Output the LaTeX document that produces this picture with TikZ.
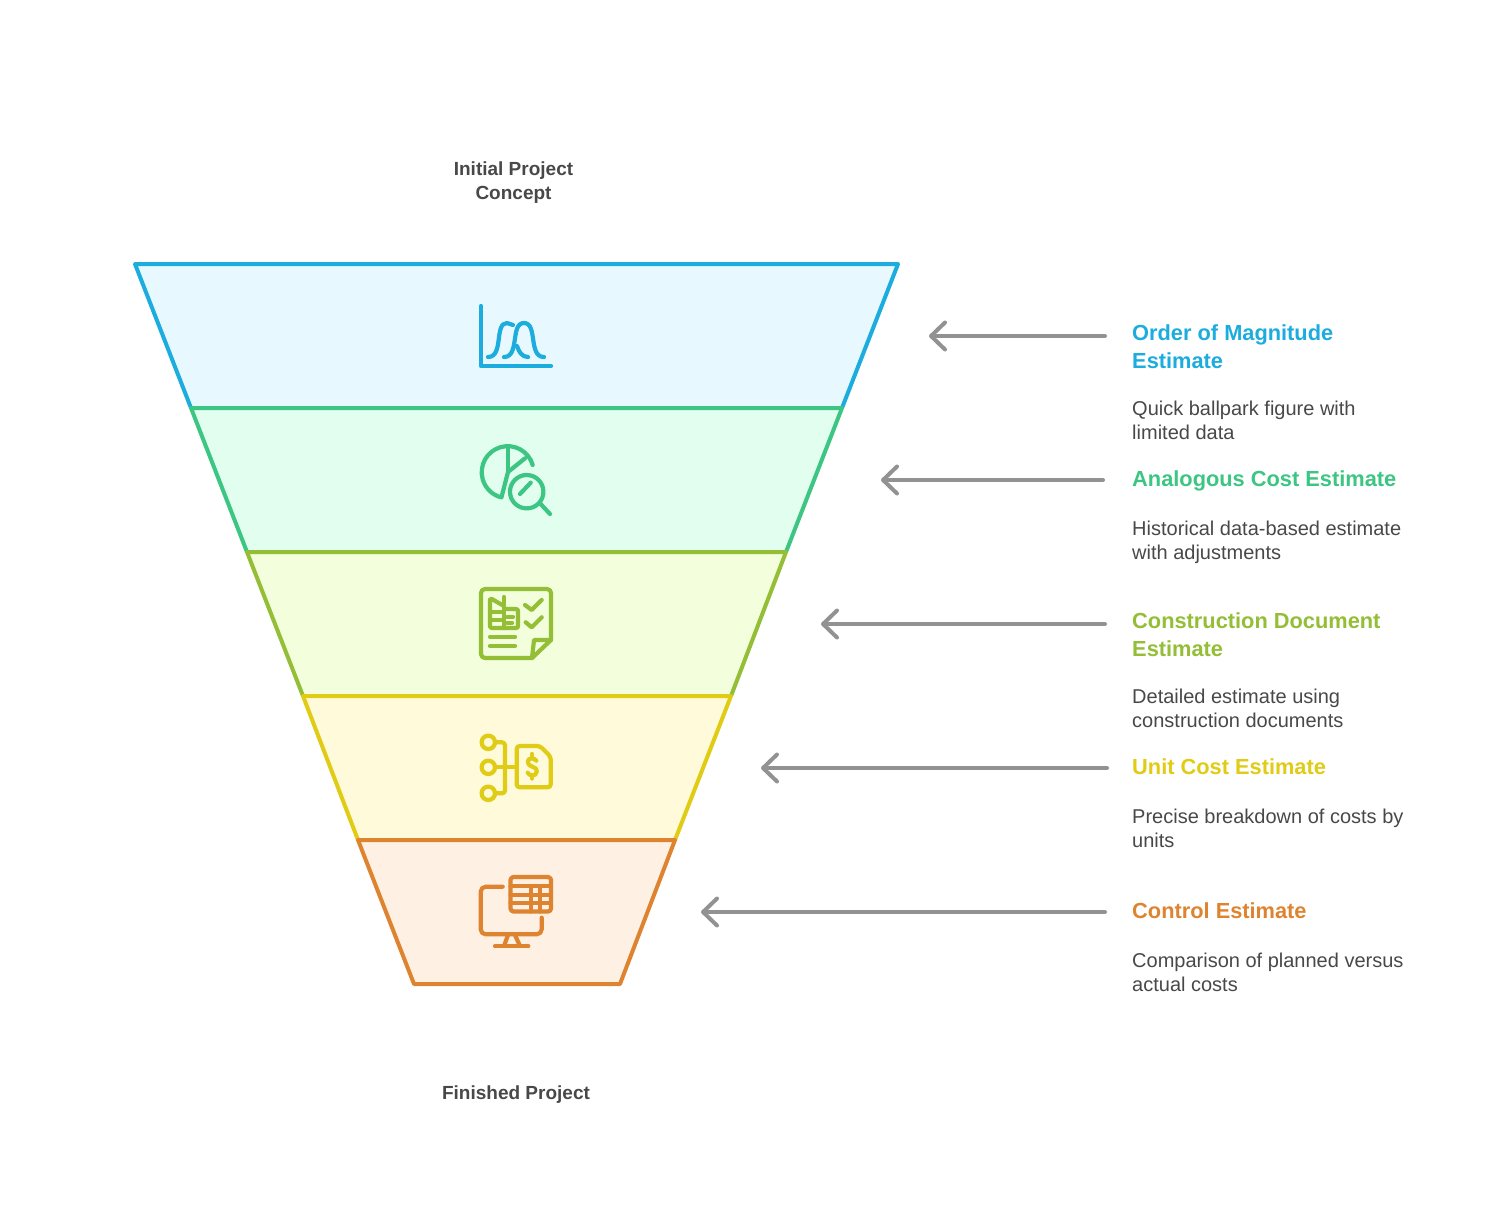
\documentclass[tikz,border=0pt]{standalone}
\usepackage{fontspec}
\setmainfont{Liberation Sans}
\usetikzlibrary{arrows.meta}
\definecolor{darktext}{HTML}{484848}
\definecolor{pointergray}{HTML}{929292}
\definecolor{blueline}{HTML}{1CACDE}
\definecolor{bluefill}{HTML}{E7F9FE}
\definecolor{greenline}{HTML}{3CC583}
\definecolor{greenfill}{HTML}{E2FEEF}
\definecolor{limeline}{HTML}{93BE36}
\definecolor{limefill}{HTML}{F3FEDC}
\definecolor{yellowline}{HTML}{E0CB15}
\definecolor{yellowfill}{HTML}{FEFADA}
\definecolor{orangeline}{HTML}{DE8431}
\definecolor{orangefill}{HTML}{FFF0E4}

\begin{document}
\begin{tikzpicture}[
    x=1pt, y=-1pt,
    band/.style={line width=4pt, line join=round},
    icon/.style={line width=4.2pt, line cap=round, line join=round},
    pointer/.style={line width=4pt, pointergray, line cap=round,
        -{Straight Barb[length=14pt, width=27pt, round]}},
    caption/.style={inner sep=0pt, align=center, text=darktext,
        font=\fontsize{19}{24}\selectfont\bfseries},
    heading/.style={inner sep=0pt, anchor=north west, align=left,
        font=\fontsize{21.8}{28}\selectfont\bfseries},
    detail/.style={inner sep=0pt, anchor=north west, align=left, text=darktext,
        font=\fontsize{20}{24}\selectfont}
]
    \useasboundingbox (0,0) rectangle (1512,1224);

    % funnel
    \draw[band, draw=blueline, fill=bluefill] (135,264) -- (898,264) -- (842,408) -- (191,408) -- cycle;
    \draw[band, draw=greenline, fill=greenfill] (191,408) -- (842,408) -- (786,552) -- (247,552) -- cycle;
    \draw[band, draw=limeline, fill=limefill] (247,552) -- (786,552) -- (731,696) -- (303,696) -- cycle;
    \draw[band, draw=yellowline, fill=yellowfill] (303,696) -- (731,696) -- (675,840) -- (358,840) -- cycle;
    \draw[band, draw=orangeline, fill=orangefill] (358,840) -- (675,840) -- (620,984) -- (414,984) -- cycle;

    % bell curves
    \begin{scope}[icon, blueline]
        \draw (481,306) -- (481,366) -- (551,366);
        \draw (488,357) .. controls (504,357) and (494,323) .. (507,323) -- (513,325);
        \draw (504,357) .. controls (520,357) and (510,323) .. (524,323)
            .. controls (538,323) and (528,357) .. (544,357);
        \draw (517,346) .. controls (519,352) and (522,357) .. (528,357);
    \end{scope}

    % pie and magnifier
    \begin{scope}[icon, greenline]
        \draw (532.7,465) arc[start angle=16, end angle=256, radius=26pt] -- (508,472) -- (525,458.3);
        \draw (508,446) -- (508,472);
        \draw (526.7,491.7) circle[radius=16.7pt];
        \draw (540,503.3) -- (550,514);
        \draw (520,494) -- (530.7,482.7);
    \end{scope}

    % note with checks
    \begin{scope}[icon, limeline]
        \draw[rounded corners=4pt] (532,658) -- (481,658) -- (481,589) -- (551,589) -- (551,640);
        \draw (551,640) -- (532,658) -- (534,640) -- cycle;
        \draw[rounded corners=2pt] (504,606) -- (490,598) -- (490,628) -- (518,628) -- (518,609) -- (504,609);
        \draw (504,597) -- (504,628);
        \draw (492,612) -- (501,612) (492,620) -- (501,620);
        \draw (507,617) -- (513,617) (507,623) -- (512,623);
        \draw (525,605) -- (531.7,610) -- (541.7,600);
        \draw (525.7,622.3) -- (531.7,627.3) -- (541.7,617.3);
        \draw (490,636.7) -- (515,636.7) (490,646) -- (515,646);
    \end{scope}

    % tree and price tag
    \begin{scope}[icon, yellowline]
        \draw (488.3,742.3) circle[radius=6.7pt];
        \draw (488.3,767.3) circle[radius=6.7pt];
        \draw (488.3,793.3) circle[radius=6.7pt];
        \draw[rounded corners=3pt] (495,742.3) -- (505,742.3) -- (505,793.3) -- (495,793.3);
        \draw (495,767.3) -- (516.7,767.3);
        \draw[rounded corners=3pt] (516.7,746) -- (540,746) -- (550.7,756.7) -- (550.7,787.3) -- (516.7,787.3) -- cycle;
        \draw (536.3,760.7) .. controls (535,758) and (528,757) .. (527.7,761.7)
            .. controls (527.5,768) and (537,765) .. (536.7,771.7)
            .. controls (536.5,777) and (529,776) .. (527.7,772.7);
        \draw (532,754) -- (532,757.7) (532,775.7) -- (532,778.5);
    \end{scope}

    % monitor and table
    \begin{scope}[icon, orangeline]
        \draw[rounded corners=5pt] (502.7,886.7) -- (480.7,886.7) -- (480.7,934.3) -- (541.7,934.3) -- (541.7,917.7);
        \draw (508,935) -- (504,946) (515,935) -- (520,946);
        \draw (495,946.3) -- (528.3,946.3);
        \draw[rounded corners=3pt] (510.5,877) rectangle (551,911.5);
        \draw (510.5,886) -- (551,886) (510.5,894.7) -- (551,894.7) (510.5,902.7) -- (551,902.7);
        \draw (530.7,886) -- (530.7,911.5) (540,886) -- (540,911.5);
    \end{scope}

    % labels on the right
    \node[heading, text=blueline] (magnitude) at (1132,324) {Order of Magnitude\\Estimate};
    \node[detail] (magnitudetext) at (1132,401) {Quick ballpark figure with\\limited data};
    \node[heading, text=greenline] (analogous) at (1132,470) {Analogous Cost Estimate};
    \node[detail] (analogoustext) at (1132,521) {Historical data-based estimate\\with adjustments};
    \node[heading, text=limeline] (document) at (1132,612) {Construction Document\\Estimate};
    \node[detail] (documenttext) at (1132,689) {Detailed estimate using\\construction documents};
    \node[heading, text=yellowline] (unit) at (1132,758) {Unit Cost Estimate};
    \node[detail] (unittext) at (1132,809) {Precise breakdown of costs by\\units};
    \node[heading, text=orangeline] (control) at (1132,902) {Control Estimate};
    \node[detail] (controltext) at (1132,953) {Comparison of planned versus\\actual costs};

    \node[caption] (start) at (513.5,183) {Initial Project\\Concept};
    \node[caption] (finish) at (516,1095) {Finished Project};

    % pointers
    \coordinate (magnitudetail) at (1105,336);
    \coordinate (magnitudehead) at (929,336);
    \coordinate (analogoustail) at (1103,480);
    \coordinate (analogoushead) at (881,480);
    \coordinate (documenttail) at (1105,624);
    \coordinate (documenthead) at (821,624);
    \coordinate (unittail) at (1107,768);
    \coordinate (unithead) at (761,768);
    \coordinate (controltail) at (1105,912);
    \coordinate (controlhead) at (701,912);
    \draw[pointer] (magnitudetail) -- (magnitudehead);
    \draw[pointer] (analogoustail) -- (analogoushead);
    \draw[pointer] (documenttail) -- (documenthead);
    \draw[pointer] (unittail) -- (unithead);
    \draw[pointer] (controltail) -- (controlhead);
\end{tikzpicture}
\end{document}
